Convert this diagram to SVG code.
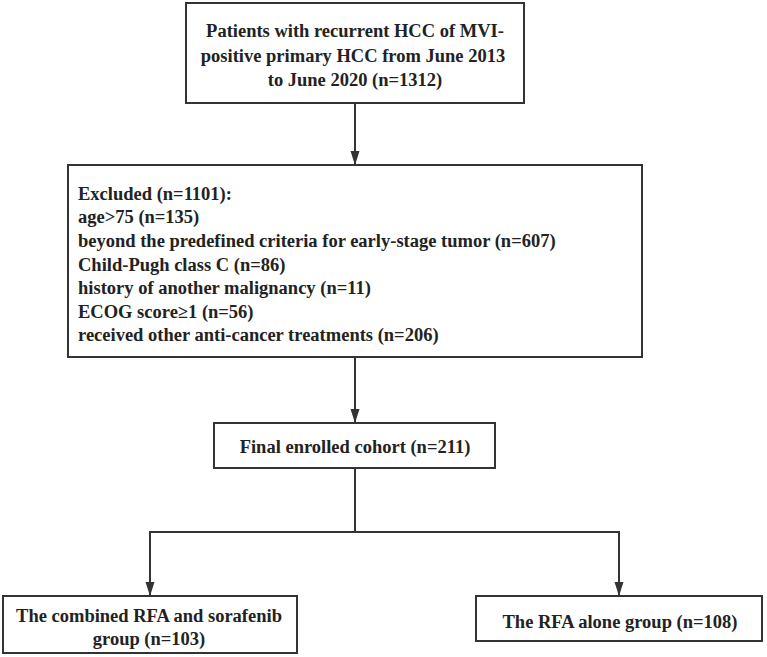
<svg xmlns="http://www.w3.org/2000/svg" width="767" height="657" viewBox="0 0 767 657">
  <style>
    .box { fill: #ffffff; stroke: #333333; stroke-width: 2; }
    .t { font-family: "Liberation Serif", "Times New Roman", serif; font-weight: bold; font-size: 18.5px; fill: #222222; }
    .c { text-anchor: middle; }
    .ln { fill: none; stroke: #333333; stroke-width: 2; }
  </style>
  <defs>
    <marker id="arr" markerUnits="userSpaceOnUse" markerWidth="14" markerHeight="10" refX="14" refY="5" orient="auto">
      <path d="M0,0.5 L14,5 L0,9.5 z" fill="#333333"/>
    </marker>
  </defs>
  <rect width="767" height="657" fill="#ffffff"/>

  <g id="connectors">
    <line class="ln" x1="355" y1="103" x2="355" y2="165" marker-end="url(#arr)"/>
    <line class="ln" x1="355" y1="357" x2="355" y2="423" marker-end="url(#arr)"/>
    <line class="ln" x1="355" y1="468" x2="355" y2="532"/>
    <line class="ln" x1="149" y1="532" x2="620" y2="532"/>
    <line class="ln" x1="150" y1="532" x2="150" y2="596" marker-end="url(#arr)"/>
    <line class="ln" x1="619" y1="532" x2="619" y2="596" marker-end="url(#arr)"/>
  </g>

  <g id="node-patients">
    <rect class="box" x="186" y="3" width="338" height="100"/>
    <text class="t c" x="355" y="37">Patients with recurrent HCC of MVI-</text>
    <text class="t c" x="353" y="61.5">positive primary HCC from June 2013</text>
    <text class="t c" x="355" y="86">to June 2020 (n=1312)</text>
  </g>

  <g id="node-excluded">
    <rect class="box" x="68" y="165" width="574" height="192"/>
    <text class="t" x="78" y="199.5">Excluded (n=1101):</text>
    <text class="t" x="78" y="223">age&gt;75 (n=135)</text>
    <text class="t" x="78" y="247">beyond the predefined criteria for early-stage tumor (n=607)</text>
    <text class="t" x="78" y="270.5">Child-Pugh class C (n=86)</text>
    <text class="t" x="78" y="294">history of another malignancy (n=11)</text>
    <text class="t" x="78" y="317.5">ECOG score≥1 (n=56)</text>
    <text class="t" x="78" y="341">received other anti-cancer treatments (n=206)</text>
  </g>

  <g id="node-final">
    <rect class="box" x="214" y="423" width="281" height="45"/>
    <text class="t c" x="355" y="452.5">Final enrolled cohort (n=211)</text>
  </g>

  <g id="node-combined">
    <rect class="box" x="3" y="596" width="294" height="57"/>
    <text class="t c" x="149" y="622">The combined RFA and sorafenib</text>
    <text class="t c" x="149" y="645">group (n=103)</text>
  </g>

  <g id="node-rfa-alone">
    <rect class="box" x="476" y="596" width="286" height="45"/>
    <text class="t c" x="620" y="628">The RFA alone group (n=108)</text>
  </g>
</svg>
